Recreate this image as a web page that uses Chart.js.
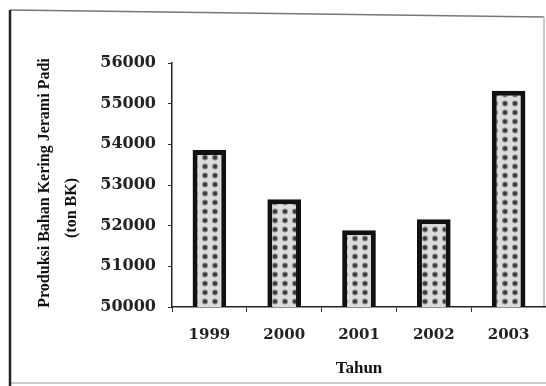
<!DOCTYPE html>
<html>
<head>
<meta charset="utf-8">
<script src="https://cdn.jsdelivr.net/npm/chart.js@4"></script>
<style>
  html, body { margin: 0; padding: 0; background: #fff; }
  #wrap { width: 546px; height: 386px; }
</style>
</head>
<body>
<div id="wrap"><canvas id="padiChart"></canvas></div>
<script>
const ctx = document.getElementById("padiChart").getContext("2d")

const years = ["1999", "2000", "2001", "2002", "2003"]
const produksi = [53860, 52650, 51890, 52160, 55320]
const yTicks = [50000, 51000, 52000, 53000, 54000, 55000, 56000]
const yTitle = ["Produksi Bahan Kering Jerami Padi", "(ton BK)"]
const xTitle = "Tahun"

const serif = "'Liberation Serif', 'Times New Roman', serif"
const numFont = "'DejaVu Serif', serif"

// dotted fill for the bars
function dotPattern() {
  const c = document.createElement("canvas")
  c.width = 10
  c.height = 9
  const p = c.getContext("2d")
  p.fillStyle = "#dcdcdc"
  p.fillRect(0, 0, 10, 9)
  p.fillStyle = "#8a8a8a"
  p.beginPath()
  p.arc(5, 4.5, 3, 0, Math.PI * 2)
  p.fill()
  p.fillStyle = "#3a3a3a"
  p.beginPath()
  p.arc(5, 4.5, 2, 0, Math.PI * 2)
  p.fill()
  return ctx.createPattern(c, "repeat")
}

// scanned-page frame around the figure
const framePlugin = {
  id: "frame",
  beforeDraw(chart) {
    const c = chart.ctx
    c.save()
    c.strokeStyle = "#777"
    c.lineWidth = 1.5
    c.beginPath()
    c.moveTo(10, 10)
    c.lineTo(544, 17)
    c.stroke()
    c.strokeStyle = "#bbb"
    c.beginPath()
    c.moveTo(544, 17)
    c.lineTo(544, 307)
    c.moveTo(10, 383)
    c.lineTo(546, 383)
    c.stroke()
    c.strokeStyle = "#222"
    c.lineWidth = 2.5
    c.beginPath()
    c.moveTo(10, 10)
    c.lineTo(10, 386)
    c.stroke()
    c.restore()
  },
}

// two-line rotated y title, second line sits a bit lower
const yTitlePlugin = {
  id: "yTitle",
  afterDraw(chart) {
    const c = chart.ctx
    const spots = [
      [45, 183],
      [72, 208],
    ]
    c.save()
    c.fillStyle = "#111"
    c.font = "bold 16px " + serif
    c.textAlign = "center"
    c.textBaseline = "middle"
    yTitle.forEach((line, i) => {
      c.save()
      c.translate(spots[i][0], spots[i][1])
      c.rotate(-Math.PI / 2)
      c.fillText(line, 0, 0)
      c.restore()
    })
    c.restore()
  },
}

new Chart(ctx, {
  type: "bar",
  data: {
    labels: years,
    datasets: [
      {
        data: produksi,
        backgroundColor: dotPattern(),
        borderColor: "#111",
        borderWidth: 5,
        borderSkipped: false,
        barPercentage: 0.45,
        categoryPercentage: 1.0,
      },
    ],
  },
  options: {
    responsive: true,
    maintainAspectRatio: false,
    animation: false,
    layout: {
      padding: { left: 10, top: 63, right: -3, bottom: 0 },
    },
    plugins: {
      legend: { display: false },
      tooltip: { enabled: false },
    },
    scales: {
      x: {
        grid: {
          display: true,
          drawOnChartArea: false,
          drawTicks: true,
          tickLength: 5,
          color: "#333",
        },
        border: { display: true, color: "#222", width: 1.5 },
        ticks: {
          color: "#222",
          padding: 14,
          font: { family: numFont, size: 15, weight: "bold" },
        },
        title: {
          display: true,
          text: xTitle,
          color: "#111",
          padding: { top: 0, bottom: 7 },
          font: { family: serif, size: 17, weight: "bold" },
        },
        afterFit(scale) {
          scale.height = 79
        },
      },
      y: {
        min: 50000,
        max: 56000,
        afterBuildTicks(scale) {
          scale.ticks = yTicks.map((v) => ({ value: v }))
        },
        grid: {
          display: true,
          drawOnChartArea: false,
          drawTicks: true,
          tickLength: 4,
          color: "#333",
        },
        border: { display: true, color: "#222", width: 1.5 },
        ticks: {
          color: "#222",
          padding: 12,
          font: { family: numFont, size: 16, weight: "bold" },
          callback: (v) => String(v),
        },
        afterFit(scale) {
          scale.width = 162
        },
      },
    },
  },
  plugins: [framePlugin, yTitlePlugin],
})
</script>
</body>
</html>
